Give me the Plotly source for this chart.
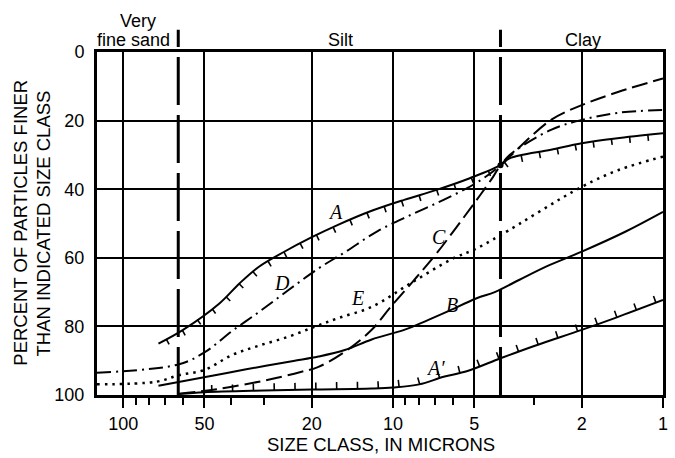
import numpy as np
import plotly.graph_objects as go

# ---- data: size class (microns) vs percent finer -------------------------
a_size = [74, 60, 44, 37, 31.4, 25.8, 20, 16, 12, 9.1, 6.9, 5.2, 4, 3.7, 2.6, 2, 1.5, 1]
a_pct = [85, 81, 73.3, 67.4, 62.6, 58.6, 54, 50.4, 46.3, 43.1, 40.2, 36.8, 33, 31, 28.5, 26.6, 25.2, 23.7]

ap_size = [62, 50, 30, 20, 12, 10, 8, 6.5, 5.3, 4, 3, 2, 1.5, 1]
ap_pct = [99.7, 99.2, 98.7, 98.4, 98.1, 97.8, 96.9, 94.7, 93.0, 89.3, 85.7, 81.0, 77.5, 72.3]

b_size = [74, 49, 35, 23.4, 18.9, 15.1, 12, 9.1, 7.5, 6.3, 4.9, 4.2, 3.4, 2.7, 2, 1.38, 1]
b_pct = [97.3, 94.7, 92.5, 90.1, 88.8, 86.9, 83.8, 81, 78.3, 75.7, 71.8, 70.0, 66.4, 62.5, 58.2, 52.4, 46.6]

c_size = [62, 45, 30, 22, 18.9, 15.1, 12, 10.2, 8.36, 6.9, 5.8, 4.9, 4.26, 4, 3.7, 2.6, 2, 1.46, 1]
c_pct = [99.6, 98.3, 95.8, 93.3, 91.8, 87.4, 81, 74.3, 66.5, 58.7, 50.9, 43.1, 36.4, 33, 30.5, 19.8, 15.5, 11.6, 7.7]

d_size = [125, 62.5, 50, 39.4, 31.4, 24.4, 18.9, 15.1, 11.4, 8.6, 6.5, 4.9, 4, 3.7, 2.6, 2, 1.46, 1]
d_pct = [93.5, 91.1, 87.6, 81.3, 75.8, 69.4, 63.1, 58.4, 52.2, 47.5, 43.1, 38.1, 33, 30, 22.7, 19.8, 17.7, 16.9]

e_size = [125, 75, 62, 50, 39.4, 31.4, 24.4, 19.5, 16, 12, 8.6, 6, 5, 4, 2, 1.46, 1]
e_pct = [96.9, 96.1, 94.2, 92.7, 88.3, 85.6, 83, 80.1, 77.6, 74.3, 67.4, 60.2, 57.6, 53.4, 39.3, 34.4, 30.5]

# common point of the curves and class boundaries
focus_size, focus_pct = 4, 33
class_bounds = [62.5, 4]

x_ticks = [100, 50, 20, 10, 5, 2, 1]
x_minor = [90, 80, 70, 60, 40, 30, 9, 8, 7, 6, 3]
y_ticks = [0, 20, 40, 60, 80, 100]

# ---- figure geometry ------------------------------------------------------
W, H = 675, 458
ML, MR, MT, MB = 97, 7, 52, 63
PW, PH = W - ML - MR, H - MT - MB
X0, X1 = np.log10(125), 0.0      # reversed log axis
Y0, Y1 = 100, 0                  # reversed linear axis


def to_px(s, p):
    lx = np.log10(s)
    return ML + (X0 - lx) / (X0 - X1) * PW, MT + (p - Y1) / (Y0 - Y1) * PH


def from_px(px, py):
    lx = X0 - (px - ML) / PW * (X0 - X1)
    return 10 ** lx, Y1 + (py - MT) / PH * (Y0 - Y1)


def hatch(sizes, pcts, spacing, length, start, side):
    """Short hatch marks perpendicular to a curve (side=+1 below, -1 above)."""
    pts = np.array([to_px(s, p) for s, p in zip(sizes, pcts)])
    seg = np.diff(pts, axis=0)
    seglen = np.hypot(seg[:, 0], seg[:, 1])
    cum = np.concatenate([[0], np.cumsum(seglen)])
    xs, ys = [], []
    s = start
    while s < cum[-1] - 3:
        i = np.searchsorted(cum, s, side="right") - 1
        t = (s - cum[i]) / seglen[i]
        p = pts[i] + t * seg[i]
        tg = seg[i] / seglen[i]
        n = np.array([-tg[1], tg[0]])
        if n[1] * side < 0:
            n = -n
        q = p + length * n
        a = from_px(*p)
        b = from_px(*q)
        xs += [a[0], b[0], None]
        ys += [a[1], b[1], None]
        s += spacing
    return xs, ys


fig = go.Figure()


def curve(sizes, pcts, dash="solid", width=2):
    fig.add_trace(go.Scatter(
        x=sizes, y=pcts, mode="lines", line_shape="spline",
        line=dict(color="black", width=width, dash=dash, smoothing=1.0),
        hoverinfo="skip", showlegend=False, cliponaxis=False))


curve(a_size, a_pct)
curve(ap_size, ap_pct)
curve(b_size, b_pct)
curve(c_size, c_pct, dash="16px,6px")
curve(d_size, d_pct, dash="14px,5px,2px,5px")
curve(e_size, e_pct, dash="2.5px,5px", width=2.5)

for sz, pc, side, sp, ln, st in [(a_size, a_pct, 1, 18.5, 6, 9),
                                 (ap_size, ap_pct, -1, 21, 7, 33)]:
    hx, hy = hatch(sz, pc, sp, ln, st, side)
    fig.add_trace(go.Scatter(x=hx, y=hy, mode="lines",
                             line=dict(color="black", width=1.6),
                             hoverinfo="skip", showlegend=False))

fig.add_trace(go.Scatter(x=[focus_size], y=[focus_pct], mode="markers",
                         marker=dict(color="black", size=6),
                         hoverinfo="skip", showlegend=False))

# class boundaries, extended above the frame
for xb in class_bounds:
    fig.add_shape(type="line", xref="x", yref="paper", x0=xb, x1=xb,
                  y0=0, y1=1.065, line=dict(color="black", width=3, dash="48px,10px"))

# curve labels
lab_font = dict(family="Liberation Serif", size=20, color="black")
for txt, s, p in [("A", 16.4, 46.6), ("D", 25.8, 67.3), ("E", 13.5, 71.8),
                  ("C", 6.76, 53.8), ("B", 6.05, 73.8), ("A′", 6.97, 92.2)]:
    fig.add_annotation(x=np.log10(s), y=p, xref="x", yref="y", text=f"<i>{txt}</i>",
                       showarrow=False, font=lab_font)

txt_font = dict(family="Liberation Sans", size=18, color="black")
for txt, xp, yp in [("Very", 138, 21), ("fine sand", 134, 40),
                    ("Silt", 343, 40), ("Clay", 587, 40)]:
    fig.add_annotation(x=(xp - ML) / PW, y=(MT + PH - yp) / PH, xref="paper", yref="paper",
                       text=txt, showarrow=False, font=txt_font,
                       xanchor="center", yanchor="middle")

title_font = dict(family="Liberation Sans", size=18.5, color="black")
for txt, xp in [("PERCENT OF PARTICLES FINER", 20), ("THAN INDICATED SIZE CLASS", 44)]:
    fig.add_annotation(x=(xp - ML) / PW, y=(MT + PH - 223) / PH, xref="paper", yref="paper",
                       text=txt, textangle=-90, showarrow=False, font=title_font,
                       xanchor="center", yanchor="middle")
fig.add_annotation(x=(384 - ML) / PW, y=(MT + PH - 457) / PH, xref="paper", yref="paper",
                   text="SIZE CLASS, IN MICRONS", showarrow=False, font=title_font,
                   xanchor="center", yanchor="bottom")

fig.update_layout(
    width=W, height=H, autosize=False,
    margin=dict(l=ML, r=MR, t=MT, b=MB),
    paper_bgcolor="white", plot_bgcolor="white",
    font=dict(family="Liberation Sans", color="black"),
    xaxis=dict(type="log", range=[X0, X1], tickmode="array", tickvals=x_ticks,
               ticktext=[str(v) for v in x_ticks], ticks="outside", ticklen=10,
               tickwidth=2, tickcolor="black", tickfont=dict(size=18),
               showgrid=True, gridcolor="black", gridwidth=1.6,
               showline=True, mirror=True, linecolor="black", linewidth=3,
               zeroline=False,
               minor=dict(tickmode="array", tickvals=x_minor, ticks="outside",
                          ticklen=7, tickwidth=1.6, tickcolor="black", showgrid=False)),
    yaxis=dict(range=[Y0, Y1], tickmode="array", tickvals=y_ticks,
               ticks="", tickfont=dict(size=18), ticklabelstandoff=6,
               showgrid=True, gridcolor="black", gridwidth=1.6,
               showline=True, mirror=True, linecolor="black", linewidth=3,
               zeroline=False),
)

fig.write_html("out.html")
